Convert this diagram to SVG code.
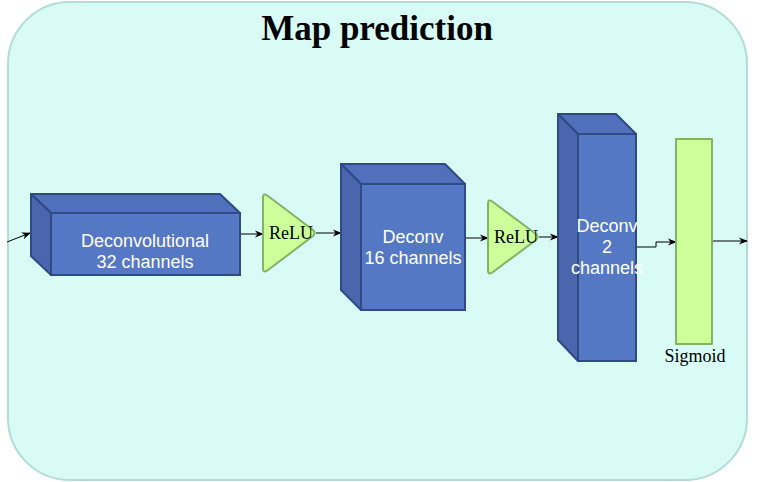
<svg xmlns="http://www.w3.org/2000/svg" width="757" height="482" viewBox="0 0 757 482">
<defs>
<marker id="arr" viewBox="0 0 10 10" refX="9" refY="5" markerWidth="10" markerHeight="9" markerUnits="userSpaceOnUse" orient="auto">
<path d="M0,1 L10,5 L0,9 L3,5 Z" fill="#000"/>
</marker>
<style>
.front{fill:#5578c5;stroke:#2e4a87;stroke-width:2}
.top{fill:#5070bb;stroke:#2e4a87;stroke-width:2;stroke-linejoin:round}
.side{fill:#4a66ad;stroke:#2e4a87;stroke-width:2;stroke-linejoin:round}
.lbl{font-family:"Liberation Sans",Arial,sans-serif;font-size:18px;fill:#fff;text-anchor:middle}
.ser{font-family:"Liberation Serif","Times New Roman",serif;font-size:18px;fill:#000;text-anchor:middle}
.grn{fill:#ccff99;stroke:#82b366;stroke-width:2;stroke-linejoin:round}
.edge{fill:none;stroke:#000;stroke-width:1;marker-end:url(#arr)}
</style>
</defs>
<g id="background">
<rect x="8" y="2" width="739" height="478" rx="62" ry="62" fill="#d8fcf5" stroke="#b3dcd6" stroke-width="2"/>
<text x="377" y="40" font-family="'Liberation Serif','Times New Roman',serif" font-size="35" font-weight="bold" text-anchor="middle" fill="#000">Map prediction</text>
</g>
<g id="connectors">
<line class="edge" x1="7" y1="242" x2="30" y2="233"/>
<line class="edge" x1="240" y1="234" x2="263" y2="234"/>
<line class="edge" x1="316" y1="233" x2="341" y2="233"/>
<line class="edge" x1="465" y1="238" x2="488" y2="238"/>
<line class="edge" x1="539" y1="237" x2="558" y2="237"/>
<polyline class="edge" points="636,247 656,247 656,242 676,242"/>
<line class="edge" x1="712" y1="241" x2="747" y2="241"/>
</g>
<g id="deconv32">
<polygon class="top" points="31,194 220,194 240,213 51,213"/>
<polygon class="side" points="31,194 51,213 51,275 31,256"/>
<rect class="front" x="51" y="213" width="189" height="62"/>
<text class="lbl" x="145" y="247">Deconvolutional</text>
<text class="lbl" x="145" y="268">32 channels</text>
</g>
<g id="relu1">
<path class="grn" d="M263,198 Q263,192 268,196 L313,230 Q316,233 313,236 L268,270 Q263,274 263,268 Z"/>
<text class="ser" x="291" y="239">ReLU</text>
</g>
<g id="deconv16">
<polygon class="top" points="341,164 445,164 465,184 361,184"/>
<polygon class="side" points="341,164 361,184 361,310 341,290"/>
<rect class="front" x="361" y="184" width="104" height="126"/>
<text class="lbl" x="413" y="243">Deconv</text>
<text class="lbl" x="413" y="264">16 channels</text>
</g>
<g id="relu2">
<path class="grn" d="M488,204 Q488,198 493,202 L536,234 Q539,237 536,240 L493,272 Q488,276 488,270 Z"/>
<text class="ser" x="516" y="243">ReLU</text>
</g>
<g id="deconv2">
<polygon class="top" points="558,114 616,114 636,134 578,134"/>
<polygon class="side" points="558,114 578,134 578,361 558,340"/>
<rect class="front" x="578" y="134" width="58" height="227"/>
<text class="lbl" x="607" y="232">Deconv</text>
<text class="lbl" x="607" y="253">2</text>
<text class="lbl" x="607" y="274">channels</text>
</g>
<g id="sigmoid">
<rect class="grn" x="676" y="139" width="36" height="205"/>
<text class="ser" x="695" y="362">Sigmoid</text>
</g>
</svg>
